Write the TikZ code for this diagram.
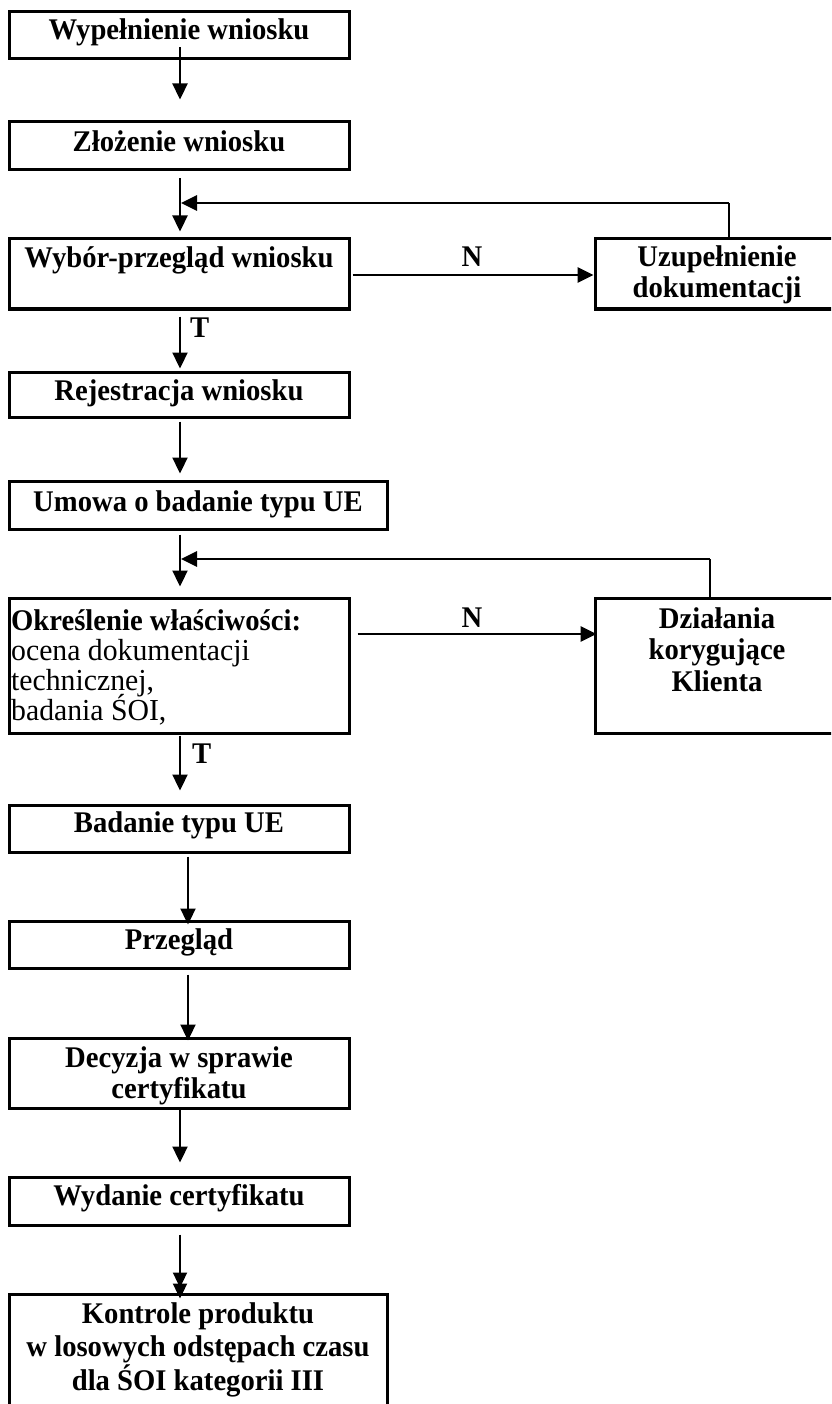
\documentclass[tikz,border=0pt]{standalone}
\usepackage{fontspec}
\setmainfont{Liberation Serif}
\usetikzlibrary{arrows.meta}
\begin{document}
\begin{tikzpicture}[x=1pt,y=-1pt,
  box/.style={draw, line width=3pt, inner sep=0pt, minimum width=#1},
  box/.default=340pt,
  lb/.style={anchor=base, inner sep=0pt, font=\fontsize{30}{32}\addfontfeature{FakeStretch=0.955}\selectfont\bfseries},
  lbl/.style={anchor=base west, inner sep=0pt, font=\fontsize{30}{32}\addfontfeature{FakeStretch=0.955}\selectfont\bfseries},
  lr/.style={anchor=base west, inner sep=0pt, font=\fontsize{30.5}{32}\addfontfeature{FakeStretch=0.975}\selectfont},
  arr/.style={line width=2.3pt, -{Triangle[length=16pt,width=15pt]}},
  arrw/.style={line width=2.7pt, -{Triangle[length=16pt,width=15pt]}},
  thinln/.style={line width=1.4pt},
  fbln/.style={line width=2.8pt, -{Triangle[length=16pt,width=15pt]}},
  dblarr/.style={line width=2.3pt, -{Triangle[length=15pt,width=14pt,sep=-4pt]Triangle[length=15pt,width=14pt]}}
]
\clip (0,0) rectangle (831,1404);
% boxes
\node[box, minimum height=47pt] (b1) at (179,35.5) {};
\node[box, minimum height=48pt] (b2) at (179,146) {};
\node[box, minimum height=70pt] (b3) at (179,274) {};
\node[box, minimum height=45pt] (b4) at (179,394.5) {};
\node[box=378pt, minimum height=48pt] (b5) at (198,505) {};
\node[box, minimum height=135pt] (b6) at (179,665.5) {};
\node[box, minimum height=47pt] (b7) at (179,828.5) {};
\node[box, minimum height=47pt] (b8) at (179,944.5) {};
\node[box, minimum height=70pt] (b9) at (179,1073) {};
\node[box, minimum height=48pt] (b10) at (179,1201) {};
\node[box=378pt, minimum height=126pt] (b11) at (198,1357) {};
\node[box=244pt, minimum height=70pt] (u) at (717,274) {};
\node[box=244pt, minimum height=135pt] (d) at (717,665.5) {};
% texts
\node[lb] (t1) at (179,40) {Wypełnienie wniosku};
\node[lb] (t2) at (179,152) {Złożenie wniosku};
\node[lb] (t3) at (179,268) {Wybór-przegląd wniosku};
\node[lb] (t4) at (179,400) {Rejestracja wniosku};
\node[lb] (t5) at (198,511) {Umowa o badanie typu UE};
\node[lbl] (t6a) at (11,630) {Określenie właściwości:};
\node[lr] (t6b) at (11,660) {ocena dokumentacji};
\node[lr] (t6c) at (11,690) {technicznej,};
\node[lr] (t6d) at (11,720) {badania ŚOI,};
\node[lb] (tua) at (717,267) {Uzupełnienie};
\node[lb] (tub) at (717,298) {dokumentacji};
\node[lb] (tda) at (717,628) {Działania};
\node[lb] (tdb) at (717,659) {korygujące};
\node[lb] (tdc) at (717,691) {Klienta};
\node[lb] (t7) at (179,832) {Badanie typu UE};
\node[lb] (t8) at (179,949) {Przegląd};
\node[lb] (t9a) at (179,1067) {Decyzja w sprawie};
\node[lb] (t9b) at (179,1098) {certyfikatu};
\node[lb] (t10) at (179,1205) {Wydanie certyfikatu};
\node[lb] (t11a) at (198,1323) {Kontrole produktu};
\node[lb] (t11b) at (198,1356) {w losowych odstępach czasu};
\node[lb] (t11c) at (198,1390) {dla ŚOI kategorii III};
\node[lb] (n1) at (472,267) {N};
\node[lb] (n2) at (472,627) {N};
\node[lbl] (tt1) at (190,337) {T};
\node[lbl] (tt2) at (192,763) {T};
% connectors
\draw[arr, shorten <=-13pt, shorten >=21pt] ([xshift=1pt]b1.south) -- ([xshift=1pt]b2.north);
\draw[arr, shorten <=7pt, shorten >=6pt] ([xshift=1pt]b2.south) -- ([xshift=1pt]b3.north);
\coordinate (f1) at (729,203);
\coordinate (j1) at (181,203);
\draw[thinln] ([xshift=12pt]u.north) -- (f1);
\draw[fbln] (f1) -- (j1);
\draw[arrw, shorten <=2pt] ([yshift=-1pt]b3.east) -- ([yshift=-1pt]u.west);
\draw[arr, shorten <=6pt, shorten >=2pt] ([xshift=1pt]b3.south) -- ([xshift=1pt]b4.north);
\draw[arr, shorten <=3pt, shorten >=6pt] ([xshift=1pt]b4.south) -- ([xshift=1pt]b4.south |- b5.north);
\draw[arr, shorten <=4pt, shorten >=10pt] ([xshift=1pt]b6.north |- b5.south) -- ([xshift=1pt]b6.north);
\coordinate (f2) at (710,559);
\coordinate (j2) at (181,559);
\draw[thinln] ([xshift=-7pt]d.north) -- (f2);
\draw[fbln] (f2) -- (j2);
\draw[arrw, shorten <=7pt, shorten >=-3pt] ([yshift=31.5pt]b6.east) -- ([yshift=31.5pt]d.west);
\draw[arr, shorten <=1pt, shorten >=13pt] ([xshift=1pt]b6.south) -- ([xshift=1pt]b7.north);
\draw[arr, shorten <=3pt, shorten >=-5pt] ([xshift=9pt]b7.south) -- ([xshift=9pt]b8.north);
\draw[arr, shorten <=5pt, shorten >=-4pt] ([xshift=9pt]b8.south) -- ([xshift=9pt]b9.north);
\draw[arr, shorten >=13pt] ([xshift=1pt]b9.south) -- ([xshift=1pt]b10.north);
\draw[dblarr, shorten <=8pt, shorten >=-6pt] ([xshift=1pt]b10.south) -- ([xshift=1pt]b10.south |- b11.north);
\end{tikzpicture}
\end{document}
